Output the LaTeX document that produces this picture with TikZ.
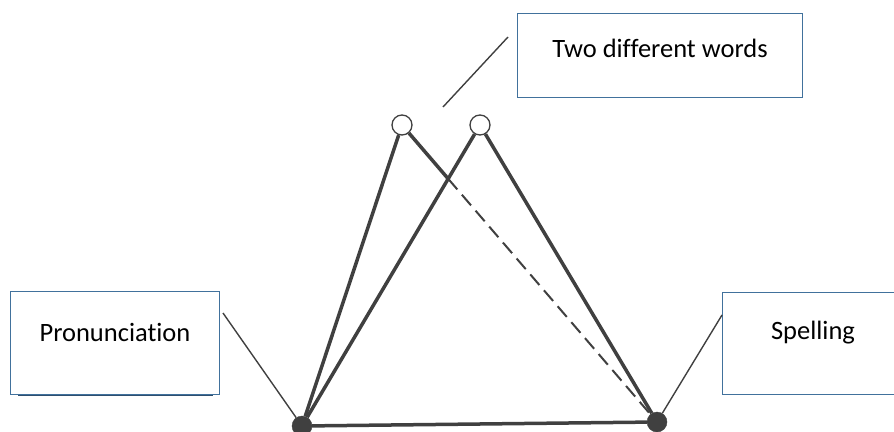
\documentclass[tikz,border=0pt]{standalone}
\usepackage{fontspec}
\setmainfont{Carlito}[Ligatures=NoCommon]
\usetikzlibrary{calc}
\definecolor{boxblue}{HTML}{41719C}
\definecolor{shadowblue}{HTML}{2F4F6F}
\definecolor{ink}{HTML}{404040}
\tikzset{
  labelbox/.style={draw=boxblue, line width=1.3pt, fill=white, rectangle, inner sep=0pt},
  labeltext/.style={font=\fontsize{26.5}{30}\selectfont, text=black, inner sep=0pt},
  fulldot/.style={circle, fill=ink, draw=ink, minimum size=20pt, inner sep=0pt},
  opendot/.style={circle, fill=white, draw=ink, line width=1.3pt, minimum size=20pt, inner sep=0pt},
  edge/.style={draw=ink, line width=3.5pt},
  dashedge/.style={draw=ink, line width=2pt, dash pattern=on 14pt off 7pt},
  pointer/.style={draw=ink, line width=1.4pt}
}
\begin{document}
\begin{tikzpicture}[x=1pt,y=-1pt]
\useasboundingbox (0,0) rectangle (894,431);
% boxes
\draw[shadowblue, line width=2.5pt] (18,395) -- (213,395);
\node[labelbox, minimum width=209pt, minimum height=103pt, anchor=north west] (pbox) at (10,291) {};
\node[labeltext] (ptext) at (115,332) {Pronunciation};
\node[labelbox, minimum width=175pt, minimum height=102pt, anchor=north west] (sbox) at (722,292) {};
\node[labeltext] (stext) at (813,333) {Spelling};
\node[labelbox, minimum width=285pt, minimum height=84pt, anchor=north west] (wbox) at (517,13) {};
\node[labeltext] (wtext) at (660,48) {Two different words};
% dots
\node[fulldot] (L) at (302,426) {};
\node[fulldot] (R) at (657,422) {};
\node[opendot] (C1) at (402,125) {};
\node[opendot] (C2) at (480,125) {};
\coordinate (X) at (intersection of C1--R and L--C2);
% edges
\draw[edge] (L) -- (R);
\draw[edge] (L) -- (C1);
\draw[edge] (L) -- (C2);
\draw[edge] (C2) -- (R);
\draw[edge] (C1) -- (X);
\draw[dashedge] (X) -- (R);
% pointers
\coordinate (pp) at (223,313);
\coordinate (sp) at (722,315);
\coordinate (wp1) at (508,37);
\coordinate (wp2) at (443,107);
\draw[pointer] (pp) -- (L);
\draw[pointer] (sp) -- (R);
\draw[pointer] (wp1) -- (wp2);
\end{tikzpicture}
\end{document}
